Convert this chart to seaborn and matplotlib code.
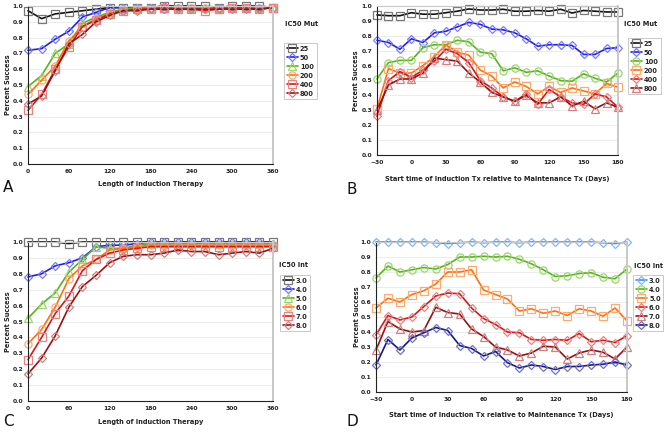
import numpy as np
import pandas as pd
import matplotlib
matplotlib.use("Agg")
import matplotlib.pyplot as plt
import seaborn as sns

# x positions
length_days = list(range(0, 361, 20))
start_days = list(range(-30, 181, 10))

# Panel A: IC50 Mut, length of induction therapy
mut_labels = ["25", "50", "100", "200", "400", "800"]
a_25 = [0.97, 0.92, 0.95, 0.96, 0.97, 0.98, 0.99, 0.99, 0.99, 0.99, 1.00, 1.00, 1.00, 1.00, 0.99, 1.00, 1.00, 1.00, 0.99]
a_50 = [0.72, 0.73, 0.79, 0.84, 0.93, 0.96, 0.99, 0.99, 0.99, 0.99, 1.00, 0.99, 0.99, 0.98, 0.99, 0.99, 0.99, 0.99, 0.99]
a_100 = [0.49, 0.56, 0.70, 0.76, 0.89, 0.93, 0.96, 0.98, 0.99, 0.99, 0.99, 0.99, 0.99, 0.99, 0.98, 0.99, 0.99, 0.99, 0.99]
a_200 = [0.44, 0.53, 0.62, 0.78, 0.87, 0.92, 0.95, 0.97, 0.98, 0.98, 0.98, 0.98, 0.99, 0.99, 0.98, 0.99, 0.99, 0.98, 0.99]
a_400 = [0.34, 0.44, 0.60, 0.74, 0.87, 0.91, 0.95, 0.97, 0.98, 0.98, 0.99, 0.98, 0.98, 0.97, 0.98, 0.99, 0.99, 0.98, 0.99]
a_800 = [0.38, 0.43, 0.59, 0.76, 0.82, 0.90, 0.94, 0.97, 0.97, 0.98, 0.98, 0.98, 0.98, 0.98, 0.98, 0.98, 0.98, 0.98, 0.99]

# Panel B: IC50 Mut, start time relative to maintenance
b_25 = [0.94, 0.935, 0.935, 0.955, 0.945, 0.945, 0.955, 0.965, 0.98, 0.973, 0.973, 0.978, 0.965, 0.965, 0.97, 0.965, 0.978, 0.953, 0.97, 0.965, 0.96, 0.96]
b_50 = [0.77, 0.755, 0.71, 0.78, 0.755, 0.82, 0.83, 0.86, 0.89, 0.877, 0.845, 0.84, 0.82, 0.78, 0.73, 0.74, 0.74, 0.735, 0.675, 0.675, 0.715, 0.72]
b_100 = [0.51, 0.62, 0.635, 0.635, 0.72, 0.74, 0.74, 0.77, 0.76, 0.69, 0.68, 0.565, 0.585, 0.555, 0.565, 0.53, 0.50, 0.495, 0.545, 0.515, 0.49, 0.55]
b_200 = [0.31, 0.58, 0.55, 0.55, 0.60, 0.66, 0.74, 0.69, 0.67, 0.57, 0.53, 0.45, 0.49, 0.46, 0.41, 0.46, 0.42, 0.45, 0.43, 0.41, 0.48, 0.455]
b_400 = [0.26, 0.50, 0.56, 0.52, 0.57, 0.63, 0.71, 0.68, 0.62, 0.50, 0.45, 0.39, 0.36, 0.41, 0.34, 0.44, 0.39, 0.35, 0.34, 0.41, 0.39, 0.32]
b_800 = [0.30, 0.47, 0.51, 0.51, 0.55, 0.65, 0.64, 0.63, 0.55, 0.49, 0.42, 0.39, 0.36, 0.40, 0.35, 0.35, 0.39, 0.33, 0.36, 0.31, 0.35, 0.32]

# Panel C: IC50 Int, length of induction therapy
int_labels = ["3.0", "4.0", "5.0", "6.0", "7.0", "8.0"]
c_3 = [1.00, 1.00, 1.00, 0.99, 1.00, 1.00, 1.00, 1.00, 1.00, 1.00, 1.00, 1.00, 1.00, 1.00, 1.00, 1.00, 1.00, 1.00, 1.00]
c_4 = [0.78, 0.80, 0.85, 0.87, 0.90, 0.97, 0.98, 0.98, 0.99, 1.00, 1.00, 1.00, 1.00, 1.00, 1.00, 1.00, 1.00, 1.00, 0.99]
c_5 = [0.52, 0.61, 0.68, 0.81, 0.89, 0.97, 0.96, 0.96, 0.98, 0.99, 0.99, 0.99, 0.99, 0.99, 0.99, 0.99, 0.99, 0.99, 0.99]
c_6 = [0.36, 0.45, 0.59, 0.77, 0.85, 0.89, 0.95, 0.96, 0.97, 0.98, 0.98, 0.98, 0.98, 0.98, 0.98, 0.98, 0.98, 0.98, 0.98]
c_7 = [0.26, 0.40, 0.55, 0.66, 0.82, 0.89, 0.93, 0.95, 0.96, 0.97, 0.97, 0.97, 0.97, 0.97, 0.97, 0.97, 0.97, 0.97, 0.97]
c_8 = [0.17, 0.27, 0.41, 0.59, 0.72, 0.79, 0.87, 0.91, 0.92, 0.92, 0.93, 0.95, 0.94, 0.94, 0.92, 0.93, 0.94, 0.93, 0.96]

# Panel D: IC50 Int, start time relative to maintenance
d_3 = [1.00, 1.00, 1.00, 1.00, 1.00, 0.995, 0.99, 0.995, 1.00, 0.995, 1.00, 1.00, 0.995, 1.00, 1.00, 1.00, 1.00, 1.00, 1.00, 0.995, 0.99, 1.00]
d_4 = [0.76, 0.84, 0.80, 0.815, 0.83, 0.82, 0.85, 0.90, 0.90, 0.905, 0.90, 0.905, 0.885, 0.855, 0.815, 0.77, 0.775, 0.79, 0.795, 0.765, 0.755, 0.82]
d_5 = [0.56, 0.625, 0.60, 0.65, 0.675, 0.72, 0.80, 0.80, 0.815, 0.68, 0.65, 0.62, 0.54, 0.555, 0.525, 0.54, 0.51, 0.555, 0.54, 0.505, 0.56, 0.475]
d_6 = [0.38, 0.51, 0.48, 0.50, 0.57, 0.64, 0.66, 0.655, 0.56, 0.49, 0.45, 0.40, 0.395, 0.35, 0.345, 0.35, 0.345, 0.39, 0.335, 0.345, 0.33, 0.375]
d_7 = [0.28, 0.47, 0.42, 0.40, 0.41, 0.565, 0.53, 0.52, 0.42, 0.37, 0.30, 0.28, 0.24, 0.26, 0.305, 0.30, 0.22, 0.26, 0.28, 0.265, 0.22, 0.30]
d_8 = [0.18, 0.35, 0.28, 0.36, 0.395, 0.43, 0.41, 0.31, 0.29, 0.24, 0.27, 0.195, 0.16, 0.18, 0.17, 0.15, 0.17, 0.17, 0.18, 0.185, 0.20, 0.18]

# (line colour, marker edge colour)
BLACK = ("#111111", "#777777")
BLUE = ("#2020e8", "#7a7aff")
GREEN = ("#55b520", "#9ad66a")
ORANGE = ("#ff7010", "#ffaa70")
RED = ("#d81818", "#f08080")
DARKRED = ("#9a1010", "#d08080")
LIGHTBLUE = ("#3a90ff", "#7fb6ff")
NAVY = ("#18188a", "#7070c8")

panels = [
    dict(pos=(28, 6, 273, 164), x=length_days, series=[a_25, a_50, a_100, a_200, a_400, a_800],
         labels=mut_labels, colors=[BLACK, BLUE, GREEN, ORANGE, RED, DARKRED],
         markers=["s", "D", "^", "o", "s", "D"], xlim=(0, 360), xticks=range(0, 361, 60),
         xlabel="Length of Induction Therapy", xlab_y=184, ylab_x=8,
         title="IC50 Mut", title_xy=(285, 24), leg_box=(284, 43), letter="A", letter_xy=(3, 188)),
    dict(pos=(377, 6, 618, 155), x=start_days, series=[b_25, b_50, b_100, b_200, b_400, b_800],
         labels=mut_labels, colors=[BLACK, BLUE, GREEN, ORANGE, RED, DARKRED],
         markers=["s", "D", "o", "s", "D", "^"], xlim=(-30, 180), xticks=range(-30, 181, 30),
         xlabel="Start time of Induction Tx relative to Maintenance Tx (Days)", xlab_y=179, ylab_x=356,
         title="IC50 Mut", title_xy=(624, 24), leg_box=(628, 38), letter="B", letter_xy=(346, 190)),
    dict(pos=(28, 242, 273, 401), x=length_days, series=[c_3, c_4, c_5, c_6, c_7, c_8],
         labels=int_labels, colors=[BLACK, BLUE, GREEN, ORANGE, RED, DARKRED],
         markers=["s", "D", "^", "o", "s", "D"], xlim=(0, 360), xticks=range(0, 361, 60),
         xlabel="Length of Induction Therapy", xlab_y=422, ylab_x=8,
         title="IC50 Int", title_xy=(279, 265), leg_box=(280, 275), letter="C", letter_xy=(3, 422)),
    dict(pos=(376, 242, 627, 392), x=start_days, series=[d_3, d_4, d_5, d_6, d_7, d_8],
         labels=int_labels, colors=[LIGHTBLUE, GREEN, ORANGE, RED, DARKRED, NAVY],
         markers=["D", "o", "s", "D", "^", "D"], xlim=(-30, 180), xticks=range(-30, 181, 30),
         xlabel="Start time of Induction Tx relative to Maintenance Tx (Days)", xlab_y=415, ylab_x=357,
         title="IC50 Int", title_xy=(634, 266), leg_box=(633, 275), letter="D", letter_xy=(346, 422)),
]

W, H = 669, 433
sns.set_style("white")
plt.rcParams["font.family"] = ["DejaVu Sans"]

fig = plt.figure(figsize=(W / 100, H / 100), dpi=100)
fig.patch.set_facecolor("white")

for p in panels:
    l, t, r, b = p["pos"]
    ax = fig.add_axes([l / W, 1 - b / H, (r - l) / W, (b - t) / H])
    for vals, lab, (lc, mc), mk in zip(p["series"], p["labels"], p["colors"], p["markers"]):
        ms = 4.5 if mk == "D" else 5.2
        sns.lineplot(x=p["x"], y=vals, ax=ax, color=lc, linewidth=1.2, marker=mk,
                     markersize=ms, markerfacecolor="none", markeredgecolor=mc,
                     markeredgewidth=0.9, label=lab, clip_on=False)
    ax.set_xlim(*p["xlim"])
    ax.set_ylim(0, 1.0)
    ax.set_xticks(list(p["xticks"]))
    ax.set_yticks(np.arange(0, 1.01, 0.1))
    ax.set_yticklabels([f"{v:.1f}" for v in np.arange(0, 1.01, 0.1)])
    ax.yaxis.grid(True, color="#ececec", linewidth=0.7)
    ax.set_axisbelow(True)
    ax.tick_params(axis="both", labelsize=4.3, length=2, width=0.6, pad=1.5, colors="#222222")
    for lbl in ax.get_xticklabels() + ax.get_yticklabels():
        lbl.set_fontweight("bold")
    ax.spines["left"].set_color("#222222")
    ax.spines["bottom"].set_color("#222222")
    ax.spines["top"].set_color("#c8c8c8")
    ax.spines["right"].set_color("#c8c8c8")
    ax.spines["right"].set_linewidth(1.4)
    ax.set_xlabel("")
    ax.set_ylabel("")
    fig.text(((l + r) / 2) / W, 1 - p["xlab_y"] / H, p["xlabel"], ha="center", va="center",
             fontsize=4.8, fontweight="bold", color="#222222")
    fig.text(p["ylab_x"] / W, 1 - ((t + b) / 2) / H, "Percent Success", ha="center", va="center",
             rotation=90, fontsize=4.8, fontweight="bold", color="#222222")
    fig.text(p["title_xy"][0] / W, 1 - p["title_xy"][1] / H, p["title"], ha="left", va="center",
             fontsize=4.8, fontweight="bold", color="#222222")
    fig.text(p["letter_xy"][0] / W, 1 - p["letter_xy"][1] / H, p["letter"], ha="left", va="center",
             fontsize=11, color="#111111")
    lx, ly = p["leg_box"]
    leg = ax.legend(loc="upper left", bbox_to_anchor=(lx / W, 1 - ly / H), bbox_transform=fig.transFigure,
                    fontsize=4.8, frameon=True, fancybox=False, borderpad=0.4, labelspacing=0.45,
                    handlelength=1.7, handletextpad=0.3, borderaxespad=0)
    leg.get_frame().set_edgecolor("#bbbbbb")
    leg.get_frame().set_linewidth(0.7)
    for txt in leg.get_texts():
        txt.set_fontweight("bold")

fig.savefig("out.png", dpi=100, facecolor="white")
